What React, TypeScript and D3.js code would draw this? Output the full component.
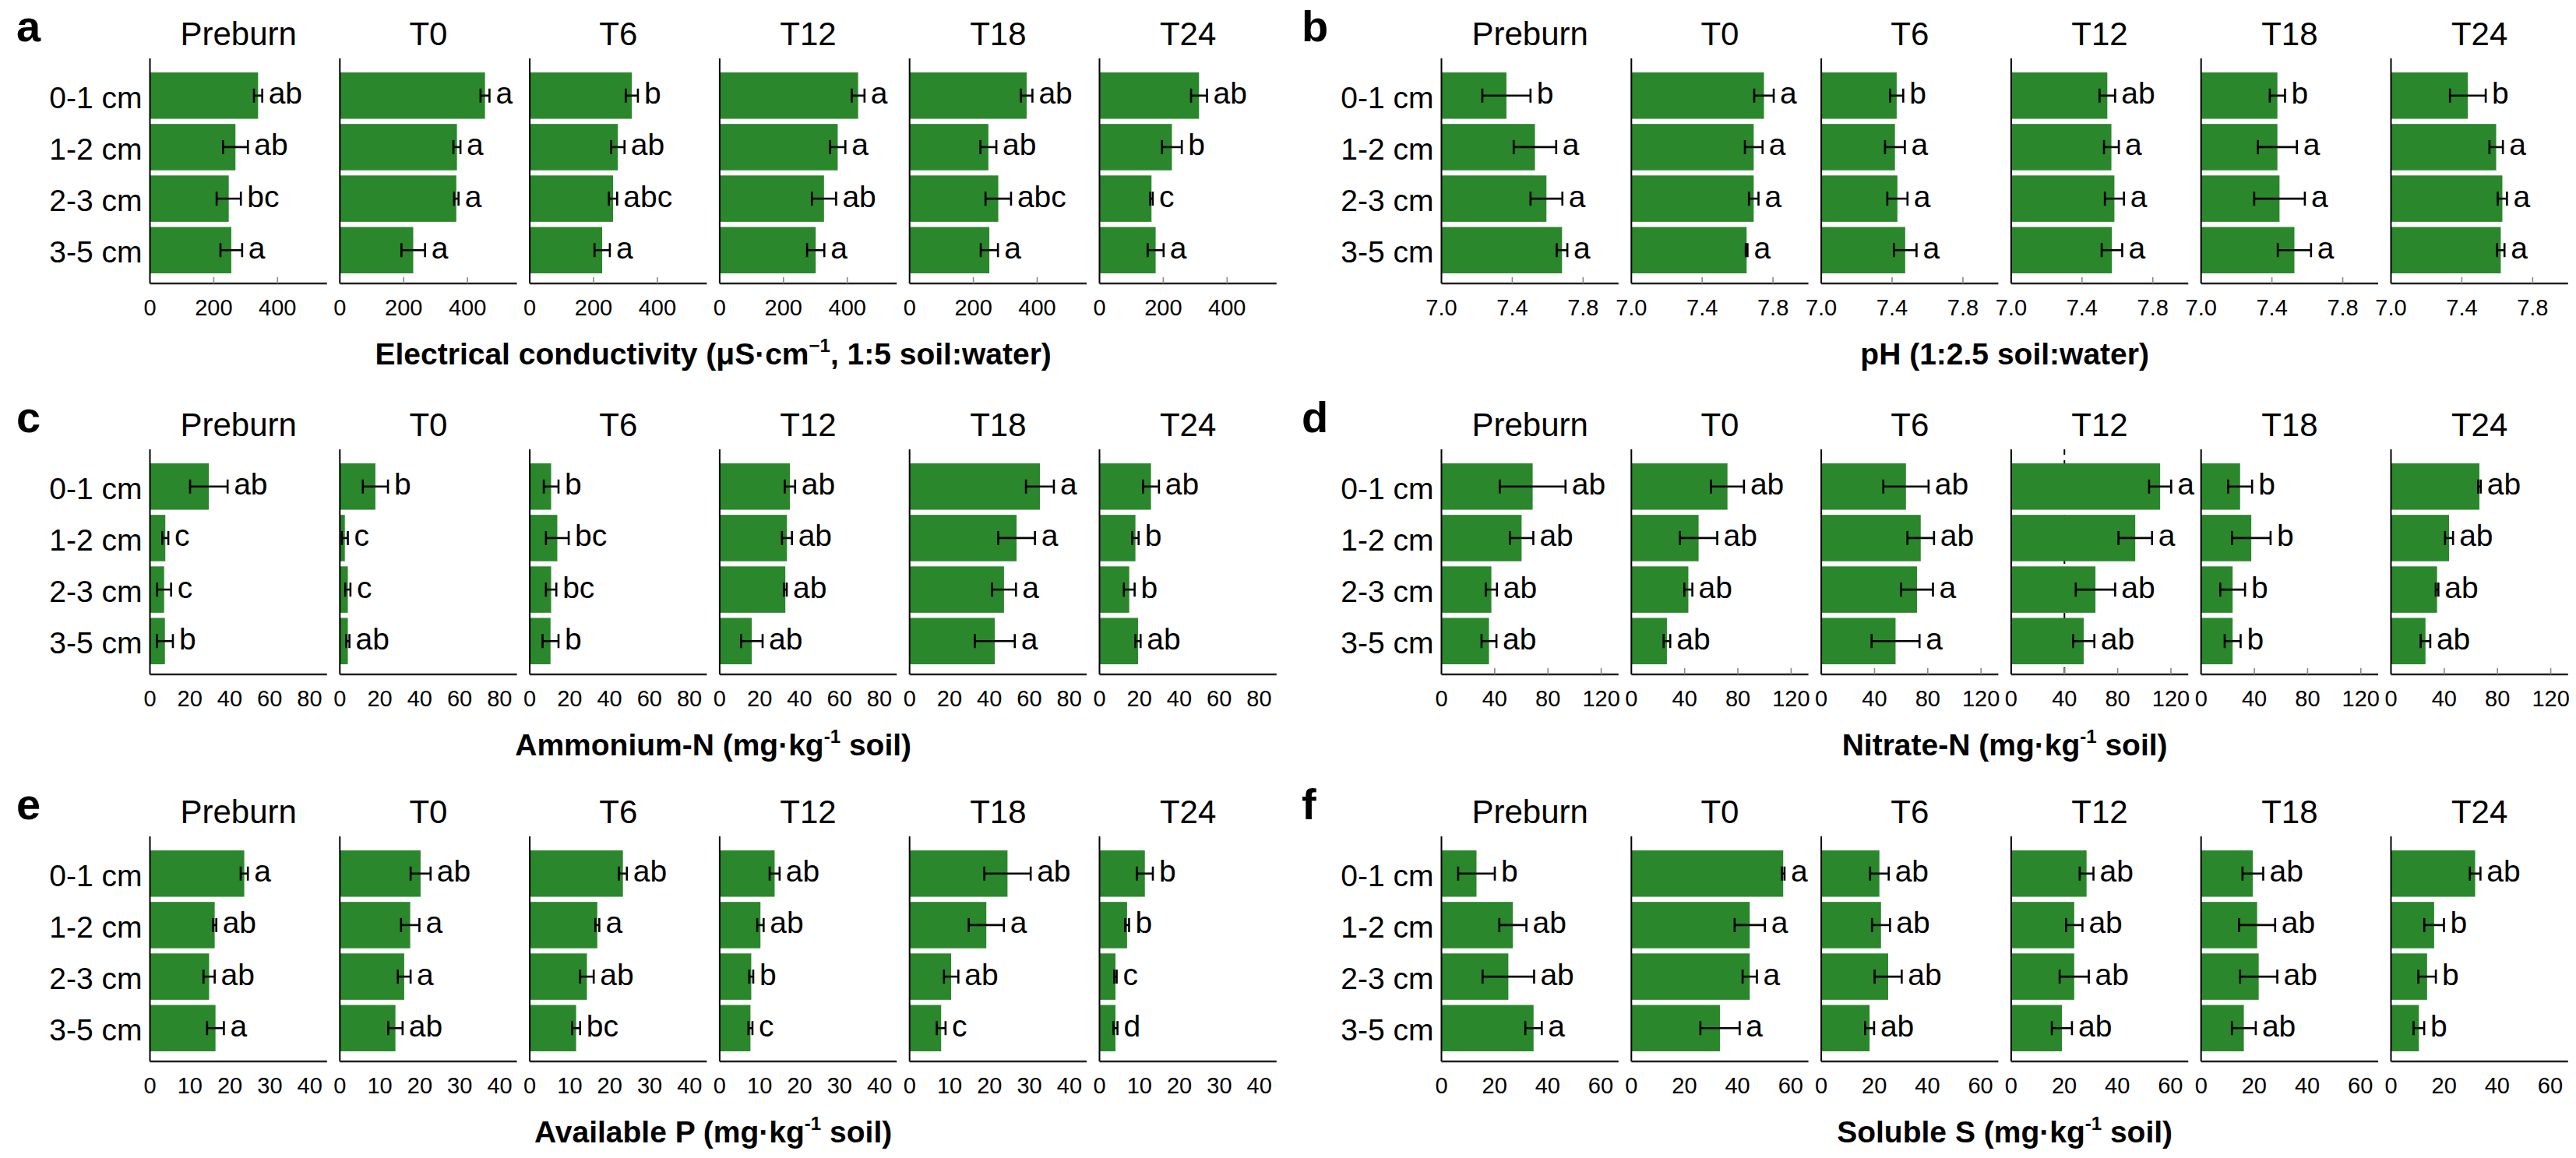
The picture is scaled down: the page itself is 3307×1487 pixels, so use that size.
import React from 'react';
import * as d3 from 'd3';

// Soil depth classes (bars) and sampling times (sub-panels)
const depths = ['0-1 cm', '1-2 cm', '2-3 cm', '3-5 cm'];
const times = ['Preburn', 'T0', 'T6', 'T12', 'T18', 'T24'];

// Electrical conductivity (µS/cm), one row per sampling time, one value per depth
const ecMean = [
  [339, 268, 247, 255],
  [455, 367, 365, 230],
  [320, 276, 261, 227],
  [434, 370, 327, 301],
  [367, 247, 278, 250],
  [312, 227, 163, 176],
];
const ecSE = [
  [13, 39, 38, 34],
  [14, 11, 7, 37],
  [19, 21, 13, 24],
  [20, 24, 38, 27],
  [18, 25, 40, 27],
  [25, 31, 4, 25],
];
const ecLetters = [
  ['ab', 'ab', 'bc', 'a'],
  ['a', 'a', 'a', 'a'],
  ['b', 'ab', 'abc', 'a'],
  ['a', 'a', 'ab', 'a'],
  ['ab', 'ab', 'abc', 'a'],
  ['ab', 'b', 'c', 'a'],
];

// pH (1:2.5 soil:water)
const phMean = [
  [7.367, 7.528, 7.593, 7.681],
  [7.749, 7.691, 7.691, 7.651],
  [7.426, 7.416, 7.43, 7.474],
  [7.543, 7.566, 7.583, 7.569],
  [7.431, 7.431, 7.443, 7.527],
  [7.434, 7.594, 7.629, 7.62],
];
const phSE = [
  [0.136, 0.12, 0.09, 0.03],
  [0.055, 0.05, 0.027, 0.005],
  [0.037, 0.056, 0.057, 0.064],
  [0.044, 0.042, 0.054, 0.058],
  [0.043, 0.11, 0.143, 0.094],
  [0.101, 0.038, 0.026, 0.021],
];
const phLetters = [
  ['b', 'a', 'a', 'a'],
  ['a', 'a', 'a', 'a'],
  ['b', 'a', 'a', 'a'],
  ['ab', 'a', 'a', 'a'],
  ['b', 'a', 'a', 'a'],
  ['b', 'a', 'a', 'a'],
];

// Ammonium-N (mg/kg soil)
const nh4Mean = [
  [29.5, 7.7, 7.1, 7.5],
  [17.8, 2.5, 4.0, 4.0],
  [10.7, 13.8, 10.7, 10.4],
  [35.2, 33.7, 32.9, 16.1],
  [65.3, 53.6, 47.3, 42.7],
  [25.8, 18.0, 14.9, 19.3],
];
const nh4SE = [
  [9.4, 1.5, 3.5, 4],
  [6.3, 1.5, 1.3, 0.8],
  [3.7, 5.7, 2.6, 4],
  [2.6, 2.5, 0.7, 5.4],
  [7, 9.2, 6, 10],
  [4, 1.6, 2.7, 1.3],
];
const nh4Letters = [
  ['ab', 'c', 'c', 'b'],
  ['b', 'c', 'c', 'ab'],
  ['b', 'bc', 'bc', 'b'],
  ['ab', 'ab', 'ab', 'ab'],
  ['a', 'a', 'a', 'a'],
  ['ab', 'b', 'b', 'ab'],
];

// Nitrate-N (mg/kg soil)
const no3Mean = [
  [68.5, 60.2, 37.5, 35.7],
  [72.2, 50.5, 42.8, 26.7],
  [63.6, 74.7, 71.9, 55.8],
  [111.9, 93.2, 63.3, 54.5],
  [29.3, 37.7, 23.7, 23.7],
  [66.4, 43.6, 34.6, 25.9],
];
const no3SE = [
  [24.7, 8.8, 4.2, 5.6],
  [12.4, 14, 3, 2.5],
  [17, 10, 12, 18],
  [8.3, 12.6, 14.8, 8],
  [9, 14.5, 9.3, 6],
  [1, 3, 1, 3.6],
];
const no3Letters = [
  ['ab', 'ab', 'ab', 'ab'],
  ['ab', 'ab', 'ab', 'ab'],
  ['ab', 'ab', 'a', 'a'],
  ['a', 'a', 'ab', 'ab'],
  ['b', 'b', 'b', 'b'],
  ['ab', 'ab', 'ab', 'ab'],
];

// Available P (mg/kg soil)
const pMean = [
  [23.6, 16.2, 14.8, 16.4],
  [20.2, 17.6, 16.1, 13.9],
  [23.3, 16.9, 14.3, 11.6],
  [13.75, 10.2, 7.9, 7.7],
  [24.5, 19.2, 10.4, 7.9],
  [11.35, 6.9, 4.0, 4.0],
];
const pSE = [
  [0.9, 0.4, 1.4, 2.1],
  [2.5, 2.3, 1.6, 1.8],
  [1, 0.5, 1.7, 1],
  [1.25, 0.8, 0.5, 0.5],
  [5.8, 4.4, 1.8, 1.1],
  [2, 0.5, 0.3, 0.5],
];
const pLetters = [
  ['a', 'ab', 'ab', 'a'],
  ['ab', 'a', 'a', 'ab'],
  ['ab', 'a', 'ab', 'bc'],
  ['ab', 'ab', 'b', 'c'],
  ['ab', 'a', 'ab', 'c'],
  ['b', 'b', 'c', 'd'],
];

// Soluble S (mg/kg soil)
const sMean = [
  [13.2, 26.9, 25.2, 34.7],
  [57.2, 44.6, 44.6, 33.4],
  [21.9, 22.5, 25.2, 18.2],
  [28.4, 23.75, 23.75, 19.1],
  [19.5, 21.1, 21.7, 16.1],
  [31.7, 16.25, 13.6, 10.5],
];
const sSE = [
  [6.9, 5.1, 9.7, 3.1],
  [0.5, 5.7, 2.7, 7.4],
  [3.5, 3.4, 5.1, 1.7],
  [2.6, 3.1, 5.5, 3.8],
  [3.9, 6.8, 7, 4.5],
  [2, 3.7, 3.3, 2],
];
const sLetters = [
  ['b', 'ab', 'ab', 'a'],
  ['a', 'a', 'a', 'a'],
  ['ab', 'ab', 'ab', 'ab'],
  ['ab', 'ab', 'ab', 'ab'],
  ['ab', 'ab', 'ab', 'ab'],
  ['ab', 'b', 'b', 'b'],
];

// Axis tick values per variable
const ecTicks = [0, 200, 400];
const phTicks = [7.0, 7.4, 7.8];
const nh4Ticks = [0, 20, 40, 60, 80];
const no3Ticks = [0, 40, 80, 120];
const pTicks = [0, 10, 20, 30, 40];
const sTicks = [0, 20, 40, 60];

type TitlePart = { t: string; sup?: boolean };
type Panel = {
  letter: string;
  col: number;
  row: number;
  mean: number[][];
  se: number[][];
  letters: string[][];
  domain: [number, number];
  ticks: number[];
  fmt: (v: number) => string;
  tickMarks: boolean;
  title: TitlePart[];
  guide?: { time: string; value: number };
};

const plain = (v: number) => String(v);

const panels: Panel[] = [
  {
    letter: 'a', col: 0, row: 0, mean: ecMean, se: ecSE, letters: ecLetters,
    domain: [0, 555], ticks: ecTicks, fmt: plain, tickMarks: true,
    title: [{ t: 'Electrical conductivity (μS·cm' }, { t: '−1', sup: true }, { t: ', 1:5 soil:water)' }],
  },
  {
    letter: 'b', col: 1, row: 0, mean: phMean, se: phSE, letters: phLetters,
    domain: [7.0, 8.0], ticks: phTicks, fmt: d3.format('.1f'), tickMarks: true,
    title: [{ t: 'pH (1:2.5 soil:water)' }],
  },
  {
    letter: 'c', col: 0, row: 1, mean: nh4Mean, se: nh4SE, letters: nh4Letters,
    domain: [0, 88.7], ticks: nh4Ticks, fmt: plain, tickMarks: false,
    title: [{ t: 'Ammonium-N (mg·kg' }, { t: '-1', sup: true }, { t: ' soil)' }],
  },
  {
    letter: 'd', col: 1, row: 1, mean: no3Mean, se: no3SE, letters: no3Letters,
    domain: [0, 133], ticks: no3Ticks, fmt: plain, tickMarks: true,
    title: [{ t: 'Nitrate-N (mg·kg' }, { t: '-1', sup: true }, { t: ' soil)' }],
    guide: { time: 'T12', value: 40 },
  },
  {
    letter: 'e', col: 0, row: 2, mean: pMean, se: pSE, letters: pLetters,
    domain: [0, 44.3], ticks: pTicks, fmt: plain, tickMarks: false,
    title: [{ t: 'Available P (mg·kg' }, { t: '-1', sup: true }, { t: ' soil)' }],
  },
  {
    letter: 'f', col: 1, row: 2, mean: sMean, se: sSE, letters: sLetters,
    domain: [0, 66.7], ticks: sTicks, fmt: plain, tickMarks: false,
    title: [{ t: 'Soluble S (mg·kg' }, { t: '-1', sup: true }, { t: ' soil)' }],
  },
];

// Layout
const W = 3307;
const H = 1487;
const COL_X0 = [192.5, 1850.5];
const LETTER_X = [21, 1671];
const ROW_TOP = [75, 577, 1074];
const SUB_STEP = 243.8;
const SUB_W = 227.3;
const FONT = "'Liberation Sans', Arial, Helvetica, sans-serif";
const GREEN = '#2a872b';

function AxisTitle({ parts, x, y }: { parts: TitlePart[]; x: number; y: number }) {
  const out: React.ReactNode[] = [];
  let raised = false;
  parts.forEach((p, i) => {
    if (p.sup) {
      out.push(
        <tspan key={i} dy={-16} fontSize={24}>
          {p.t}
        </tspan>
      );
      raised = true;
    } else {
      out.push(
        <tspan key={i} dy={raised ? 16 : 0}>
          {p.t}
        </tspan>
      );
      raised = false;
    }
  });
  return (
    <text x={x} y={y} textAnchor="middle" fontWeight="bold" fontSize={39} fontFamily={FONT}>
      {out}
    </text>
  );
}

function PanelView({ p }: { p: Panel }) {
  const x0 = COL_X0[p.col];
  const top = ROW_TOP[p.row];
  const axisBottom = top + 289;
  const y = d3.scaleBand<string>().domain(depths).range([top + 18, top + 276]).paddingInner(0.1);
  const bw = y.bandwidth();
  const cap = 9;
  const panelCenter = x0 + (SUB_STEP * (times.length - 1) + SUB_W) / 2;

  return (
    <g>
      <text x={LETTER_X[p.col]} y={top - 22} fontWeight="bold" fontSize={56} fontFamily={FONT}>
        {p.letter}
      </text>

      {depths.map((d) => (
        <text
          key={d}
          x={x0 - 10}
          y={(y(d) as number) + bw / 2 + 16}
          textAnchor="end"
          fontSize={39}
          fontFamily={FONT}
        >
          {d}
        </text>
      ))}

      {times.map((t, ti) => {
        const left = x0 + ti * SUB_STEP;
        const x = d3.scaleLinear().domain(p.domain).range([left, left + SUB_W]);
        const base = x(p.domain[0]);
        return (
          <g key={t}>
            <text x={left + SUB_W / 2} y={top - 17} textAnchor="middle" fontSize={42} fontFamily={FONT}>
              {t}
            </text>

            {p.guide && p.guide.time === t && (
              <line
                x1={x(p.guide.value)}
                x2={x(p.guide.value)}
                y1={top}
                y2={axisBottom}
                stroke="#000"
                strokeWidth={2}
                strokeDasharray="7,7"
              />
            )}

            {depths.map((d, di) => {
              const m = p.mean[ti][di];
              const s = p.se[ti][di];
              const yc = (y(d) as number) + bw / 2;
              const lo = x(m - s);
              const hi = x(m + s);
              return (
                <g key={d}>
                  <rect x={base} y={y(d)} width={x(m) - base} height={bw} fill={GREEN} />
                  <line x1={lo} x2={hi} y1={yc} y2={yc} stroke="#000" strokeWidth={2.6} />
                  <line x1={lo} x2={lo} y1={yc - cap} y2={yc + cap} stroke="#000" strokeWidth={2.6} />
                  <line x1={hi} x2={hi} y1={yc - cap} y2={yc + cap} stroke="#000" strokeWidth={2.6} />
                  <text x={hi + 8} y={yc + 10.5} fontSize={39} fontFamily={FONT}>
                    {p.letters[ti][di]}
                  </text>
                </g>
              );
            })}

            {/* axes */}
            <line x1={left} x2={left} y1={top} y2={axisBottom} stroke="#000" strokeWidth={2} />
            <line x1={left} x2={left + SUB_W} y1={axisBottom} y2={axisBottom} stroke="#222" strokeWidth={2.6} />
            {p.tickMarks &&
              p.ticks
                .filter((v) => v !== p.domain[0])
                .map((v) => (
                  <line
                    key={v}
                    x1={x(v)}
                    x2={x(v)}
                    y1={axisBottom - 8}
                    y2={axisBottom}
                    stroke="#888"
                    strokeWidth={1.6}
                  />
                ))}
            {p.ticks.map((v) => (
              <text key={v} x={x(v)} y={top + 330} textAnchor="middle" fontSize={29} fontFamily={FONT}>
                {p.fmt(v)}
              </text>
            ))}
          </g>
        );
      })}

      <AxisTitle parts={p.title} x={panelCenter} y={top + 393} />
    </g>
  );
}

export default function App() {
  return (
    <svg
      width={W}
      height={H}
      viewBox={`0 0 ${W} ${H}`}
      style={{ position: 'absolute', left: 0, top: 0, background: '#fff' }}
    >
      <rect width={W} height={H} fill="#fff" />
      {panels.map((p) => (
        <PanelView key={p.letter} p={p} />
      ))}
    </svg>
  );
}
